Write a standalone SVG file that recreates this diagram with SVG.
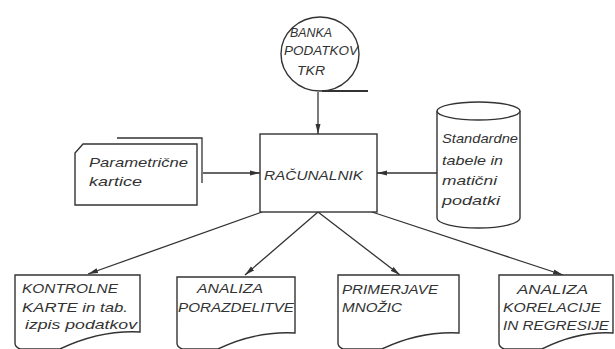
<svg xmlns="http://www.w3.org/2000/svg" width="615" height="349" viewBox="0 0 615 349">
<defs>
<marker id="arr" markerUnits="userSpaceOnUse" markerWidth="11" markerHeight="6" refX="10" refY="3" orient="auto">
<path d="M0,0.5 L10,3 L0,5.5 Z" fill="#333"/>
</marker>
<style>
.s{fill:#fff;stroke:#333;stroke-width:1.4}
.t{font-family:"Liberation Sans",Arial,sans-serif;font-style:italic;font-size:13px;fill:#333}
.c{stroke:#333;stroke-width:1.3;fill:none;marker-end:url(#arr)}
</style>
</defs>
<rect width="615" height="349" fill="#fff"/>
<g id="connectors">
<line class="c" x1="318" y1="92" x2="318" y2="134"/>
<line class="c" x1="203" y1="173" x2="260" y2="173"/>
<line class="c" x1="437" y1="173" x2="377" y2="173"/>
<line class="c" x1="262" y1="212" x2="88" y2="274"/>
<line class="c" x1="318" y1="212" x2="245" y2="275"/>
<line class="c" x1="318" y1="212" x2="400" y2="275"/>
<line class="c" x1="372" y1="212" x2="563" y2="275"/>
</g>
<g id="banka">
<ellipse class="s" cx="320" cy="54" rx="39" ry="37" stroke-width="1.8"/>
<path d="M322,91 H368" stroke="#333" stroke-width="1.8" fill="none"/>
<text class="t" x="290" y="37" textLength="42" lengthAdjust="spacingAndGlyphs">BANKA</text>
<text class="t" x="284" y="55" textLength="74" lengthAdjust="spacingAndGlyphs">PODATKOV</text>
<text class="t" x="297" y="75" textLength="28" lengthAdjust="spacingAndGlyphs">TKR</text>
</g>
<g id="racunalnik">
<rect class="s" x="260" y="134" width="117" height="78" stroke-width="2.6"/>
<text class="t" x="264" y="180" font-size="14" textLength="99" lengthAdjust="spacingAndGlyphs">RAČUNALNIK</text>
</g>
<g id="parametricne">
<polyline points="117,138 202,138 202,183" fill="none" stroke="#333" stroke-width="1.3"/>
<path class="s" d="M83,144 H197 V205 H75 V153 Z"/>
<text class="t" x="89" y="167" textLength="99" lengthAdjust="spacingAndGlyphs">Parametrične</text>
<text class="t" x="89" y="186" textLength="53" lengthAdjust="spacingAndGlyphs">kartice</text>
</g>
<g id="standardne">
<path class="s" d="M437,111 V218 A41.5,10 0 0 0 520,218 V111"/>
<ellipse class="s" cx="478.5" cy="111" rx="41.5" ry="9"/>
<text class="t" x="442" y="143" textLength="76" lengthAdjust="spacingAndGlyphs">Standardne</text>
<text class="t" x="442" y="165" textLength="61" lengthAdjust="spacingAndGlyphs">tabele in</text>
<text class="t" x="442" y="185" textLength="55" lengthAdjust="spacingAndGlyphs">matični</text>
<text class="t" x="442" y="205" textLength="58" lengthAdjust="spacingAndGlyphs">podatki</text>
</g>
<g id="kontrolne">
<path class="s" d="M15,275 H140 V332 Q100,330 60,349 L20,349 Q15,347 15,343 Z"/>
<text class="t" x="22" y="293" textLength="96" lengthAdjust="spacingAndGlyphs">KONTROLNE</text>
<text class="t" x="22" y="312" textLength="106" lengthAdjust="spacingAndGlyphs">KARTE in tab.</text>
<text class="t" x="25" y="329" textLength="112" lengthAdjust="spacingAndGlyphs">izpis podatkov</text>
</g>
<g id="porazdelitve">
<path class="s" d="M177,277 H295 V333 Q255,331 218,349 L182,349 Q177,347 177,343 Z"/>
<text class="t" x="197" y="293" textLength="66" lengthAdjust="spacingAndGlyphs">ANALIZA</text>
<text class="t" x="178" y="312" textLength="116" lengthAdjust="spacingAndGlyphs">PORAZDELITVE</text>
</g>
<g id="primerjave">
<path class="s" d="M338,275 H459 V333 Q420,331 382,349 L343,349 Q338,347 338,343 Z"/>
<text class="t" x="342" y="294" textLength="96" lengthAdjust="spacingAndGlyphs">PRIMERJAVE</text>
<text class="t" x="342" y="312" textLength="60" lengthAdjust="spacingAndGlyphs">MNOŽIC</text>
</g>
<g id="korelacije">
<path class="s" d="M499,275 H613 V333 Q578,331 542,349 L504,349 Q499,347 499,343 Z"/>
<text class="t" x="517" y="294" textLength="71" lengthAdjust="spacingAndGlyphs">ANALIZA</text>
<text class="t" x="503" y="312" textLength="98" lengthAdjust="spacingAndGlyphs">KORELACIJE</text>
<text class="t" x="503" y="330" textLength="106" lengthAdjust="spacingAndGlyphs">IN REGRESIJE</text>
</g>
</svg>
